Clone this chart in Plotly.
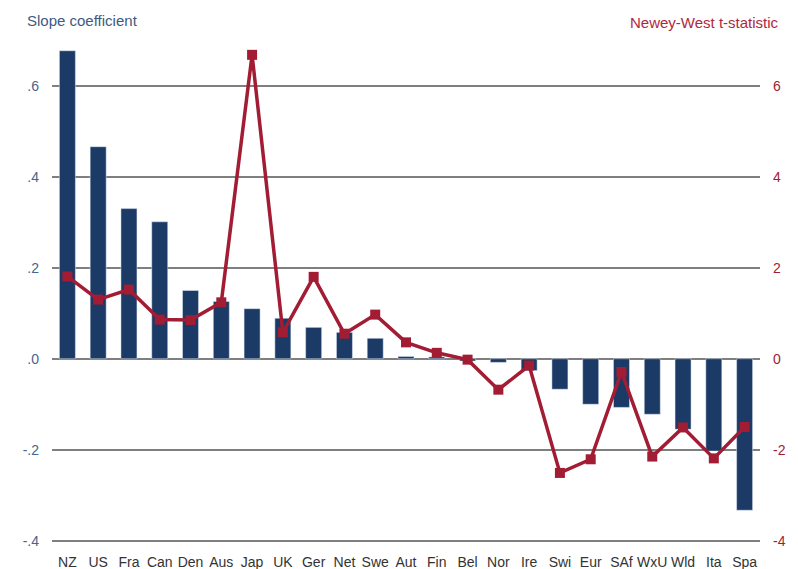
import plotly.graph_objects as go

countries = ["NZ", "US", "Fra", "Can", "Den", "Aus", "Jap", "UK", "Ger", "Net", "Swe", "Aut",
             "Fin", "Bel", "Nor", "Ire", "Swi", "Eur", "SAf", "WxU", "Wld", "Ita", "Spa"]
slope = [0.677, 0.466, 0.330, 0.301, 0.150, 0.126, 0.110, 0.089, 0.069, 0.058, 0.045, 0.005,
         0.004, -0.005, -0.008, -0.026, -0.067, -0.100, -0.107, -0.122, -0.155, -0.203, -0.333]
tstat = [1.81, 1.30, 1.52, 0.86, 0.85, 1.24, 6.68, 0.58, 1.80, 0.55, 0.97, 0.36,
         0.13, -0.02, -0.68, -0.15, -2.51, -2.21, -0.29, -2.15, -1.51, -2.19, -1.50]

left_ticks = [-0.4, -0.2, 0.0, 0.2, 0.4, 0.6]
left_text = ["-.4", "-.2", ".0", ".2", ".4", ".6"]
right_ticks = [-4, -2, 0, 2, 4, 6]
right_text = ["-4", "-2", "0", "2", "4", "6"]

navy = "#1b3a66"
red = "#a21c33"
font = "Liberation Sans, Arial, sans-serif"

fig = go.Figure()
fig.add_trace(go.Bar(x=countries, y=slope, marker_color=navy, width=0.52, yaxis="y"))
fig.add_trace(go.Scatter(x=countries, y=tstat, yaxis="y2", mode="lines+markers",
                         line=dict(color=red, width=3.5),
                         marker=dict(symbol="square", size=10, color=red)))

fig.update_layout(
    width=790, height=561,
    margin=dict(l=44, r=38, t=29.5, b=26.4),
    plot_bgcolor="white", paper_bgcolor="white",
    showlegend=False,
    font=dict(family=font, size=14),
    xaxis=dict(range=[-0.5, 22.5], showgrid=False, showline=False, zeroline=False,
               automargin=False,
               ticks="", ticklabelstandoff=9, tickfont=dict(size=14, color="#333333")),
    yaxis=dict(range=[-0.405, 0.705], tickvals=left_ticks, ticktext=left_text,
               showgrid=True, gridcolor="#7f7f7f", gridwidth=1.5, automargin=False,
               zeroline=False, showline=False, ticks="", ticklabelstandoff=12,
               tickfont=dict(size=14, color="#48648c")),
    yaxis2=dict(range=[-4.05, 7.05], tickvals=right_ticks, ticktext=right_text,
                overlaying="y", side="right", showgrid=False, zeroline=False,
                showline=False, ticks="", ticklabelstandoff=12, automargin=False,
                tickfont=dict(size=14, color=red)),
    annotations=[
        dict(text="Slope coefficient", xref="paper", yref="paper", x=-27/708, y=1.0346,
             xanchor="left", yanchor="middle", showarrow=False,
             font=dict(size=15, color="#3f5a80"), ),
        dict(text="Newey-West t-statistic", xref="paper", yref="paper", x=1.0297, y=1.0307,
             xanchor="right", yanchor="middle", showarrow=False,
             font=dict(size=15, color="#b0283e")),
    ],
)

fig.write_html("out.html")
